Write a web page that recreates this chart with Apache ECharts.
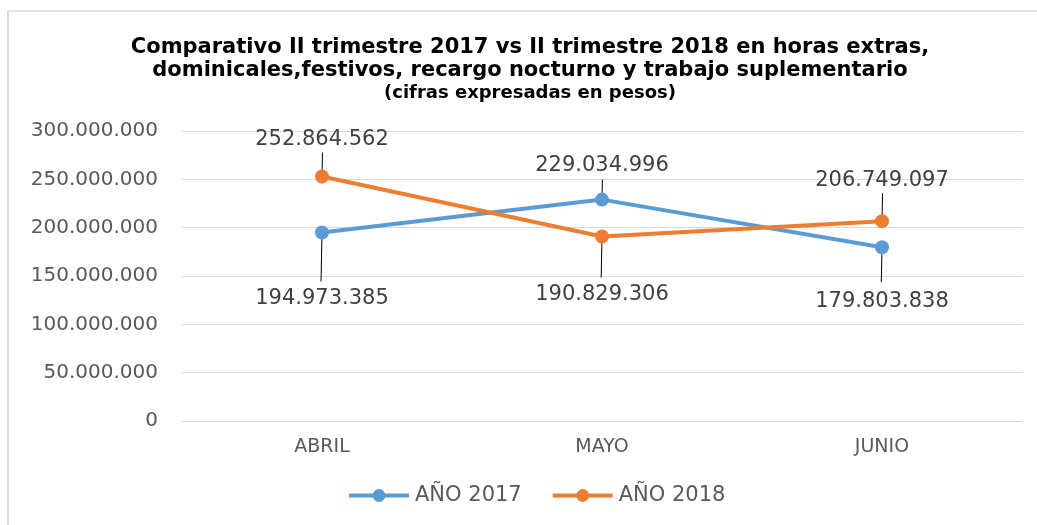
<!DOCTYPE html>
<html>
<head>
<meta charset="utf-8">
<script src="https://cdn.jsdelivr.net/npm/echarts@6/dist/echarts.min.js"></script>
<style>
  html, body { margin: 0; padding: 0; background: #fff; }
  #chart { width: 1037px; height: 525px; }
  #marco { position: absolute; left: 7px; top: 10px; width: 1040px; height: 530px;
           border-left: 2px solid #d9d9d9; border-top: 2px solid #e3e3e3; pointer-events: none; }
</style>
</head>
<body>
<div id="chart"></div>
<div id="marco"></div>
<script>
// meses del II trimestre
const meses = ['ABRIL', 'MAYO', 'JUNIO']
// valores en pesos
const valores2017 = [194973385, 229034996, 179803838]
const valores2018 = [252864562, 190829306, 206749097]

// ubicacion de etiquetas y lineas guia (1 = abajo, -1 = arriba)
const dir2017 = [1, -1, 1]
const dir2018 = [-1, 1, -1]
const dist2017 = [49, 17, 37]
const dist2018 = [20, 41, 23]
const guia2017 = [49, 20, 35]
const guia2018 = [24, 41, 28]

const chart = echarts.init(document.getElementById('chart'))

// formato 300.000.000
function fmt (v) {
  return String(v).replace(/\B(?=(\d{3})+(?!\d))/g, '.')
}

function buildData (vals, dir, dist) {
  return vals.map((v, i) => ({
    value: v,
    label: { position: dir[i] > 0 ? 'bottom' : 'top', distance: dist[i] }
  }))
}

// lineas guia de las etiquetas
function guias (vals, dir, len) {
  return {
    type: 'custom',
    silent: true,
    z: 1,
    data: vals.map((v, i) => [i, v, dir[i] * len[i]]),
    renderItem: function (params, api) {
      const p = api.coord([api.value(0), api.value(1)])
      return {
        type: 'line',
        shape: { x1: p[0], y1: p[1], x2: p[0] - api.value(2) * 0.02, y2: p[1] + api.value(2) },
        style: { stroke: '#000', lineWidth: 1 }
      }
    }
  }
}

const labelBase = {
  show: true,
  fontFamily: 'DejaVu Sans',
  fontSize: 21,
  color: '#404040',
  formatter: p => fmt(p.value)
}

const option = {
  animation: false,
  title: {
    left: 525,
    top: 31,
    textAlign: 'center',
    text: 'Comparativo II trimestre 2017 vs II trimestre 2018 en horas extras,\ndominicales,festivos, recargo nocturno y trabajo suplementario',
    subtext: '(cifras expresadas en pesos)',
    itemGap: 2,
    textStyle: {
      fontFamily: 'DejaVu Sans',
      fontWeight: 'bold',
      fontSize: 21,
      lineHeight: 23,
      color: '#000'
    },
    subtextStyle: {
      fontFamily: 'DejaVu Sans',
      fontWeight: 'bold',
      fontSize: 18,
      color: '#000'
    }
  },
  grid: {
    left: 182,
    right: 15,
    top: 131,
    bottom: 104
  },
  legend: {
    bottom: 14,
    left: 342,
    itemWidth: 60,
    itemHeight: 16,
    itemGap: 29,
    lineStyle: { width: 4 },
    textStyle: {
      fontFamily: 'DejaVu Sans',
      fontSize: 21,
      color: '#595959',
      padding: [0, 0, 0, 1]
    },
    data: ['AÑO 2017', 'AÑO 2018']
  },
  xAxis: {
    type: 'category',
    data: meses,
    axisLine: { lineStyle: { color: '#d9d9d9' } },
    axisTick: { show: false },
    axisLabel: {
      margin: 17,
      fontFamily: 'DejaVu Sans',
      fontSize: 19,
      color: '#595959'
    }
  },
  yAxis: {
    type: 'value',
    min: 0,
    max: 300000000,
    interval: 50000000,
    axisLine: { show: false },
    axisTick: { show: false },
    splitLine: { lineStyle: { color: '#d9d9d9' } },
    axisLabel: {
      margin: 24,
      fontFamily: 'DejaVu Sans',
      fontSize: 20,
      color: '#595959',
      formatter: v => fmt(v)
    }
  },
  series: [
    guias(valores2017, dir2017, guia2017),
    guias(valores2018, dir2018, guia2018),
    {
      name: 'AÑO 2017',
      type: 'line',
      z: 3,
      data: buildData(valores2017, dir2017, dist2017),
      symbol: 'circle',
      symbolSize: 14,
      color: '#5b9bd5',
      lineStyle: { width: 4 },
      label: labelBase
    },
    {
      name: 'AÑO 2018',
      type: 'line',
      z: 3,
      data: buildData(valores2018, dir2018, dist2018),
      symbol: 'circle',
      symbolSize: 14,
      color: '#ed7d31',
      lineStyle: { width: 4 },
      label: labelBase
    }
  ]
}

chart.setOption(option)
</script>
</body>
</html>
